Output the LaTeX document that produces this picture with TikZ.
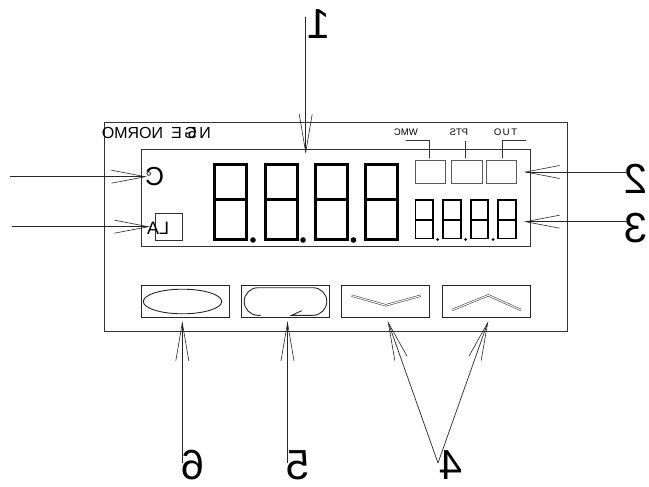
\documentclass[tikz,border=0pt]{standalone}
\usepackage{fontspec}
\setmainfont{Liberation Sans}
\usetikzlibrary{arrows.meta}
\newcommand{\mirr}[1]{\reflectbox{#1}}
\tikzset{
  x=1pt,y=-1pt,
  thinline/.style={line width=.7pt,draw=black!80},
  boxline/.style={line width=.8pt,draw=black!65},
  leader/.style={line width=.7pt,draw=black!85,-{Straight Barb[length=38pt,width=13pt,line width=.6pt]}},
  leaderside/.style={line width=.7pt,draw=black!85,-{Straight Barb[length=34pt,width=13pt,line width=.6pt]}},
  bigseg/.style={line width=3pt,draw=black,line join=miter},
  smallseg/.style={line width=1.7pt,draw=black,line join=miter},
  callout/.style={inner sep=0pt,font=\fontsize{42}{42}\selectfont},
  small/.style={inner sep=0pt,font=\fontsize{9.5}{9.5}\selectfont},
  chev/.style={line width=.5pt,double=white,double distance=1.1pt,draw=black!85,line join=miter},
  btn/.style={line width=.9pt,draw=black!85},
}
\begin{document}
\begin{tikzpicture}
\useasboundingbox (0,0) rectangle (649,487);
% housings
\draw[thinline] (104.5,122.5) rectangle (567,331);
\draw[thinline] (141,149) rectangle (530,246);
% large digits
\foreach \xx in {214.5,265,315.5,365.5}{
  \draw[bigseg] (\xx,164.5) rectangle ++(32,75);
  \draw[bigseg] (\xx,199.5) -- ++(32,0);
}
\foreach \xx in {253,303,353.5}{ \fill (\xx,240) circle (2.8); }
% small digits
\foreach \xx in {415.5,443.2,470.8,498.2}{
  \draw[smallseg] (\xx,200) rectangle ++(17.5,38.5);
  \draw[smallseg] (\xx,220) -- ++(17.5,0);
}
\foreach \xx in {437.7,465.5,493}{ \fill (\xx,239.5) circle (1.5); }
% indicator boxes
\node[boxline,draw,minimum width=30.5pt,minimum height=23pt,inner sep=0pt] (bw) at (430.3,172.3) {};
\node[boxline,draw,minimum width=30.5pt,minimum height=23pt,inner sep=0pt] (bp) at (467,172.3) {};
\node[boxline,draw,minimum width=30.5pt,minimum height=23pt,inner sep=0pt] (bo) at (501.3,172.3) {};
\coordinate (wf) at (405.7,140.7);
\coordinate (pf) at (465.7,141);
\coordinate (of) at (525.7,140.7);
\coordinate (wb) at (429.7,158);
\coordinate (pb) at (465.7,158);
\coordinate (ob) at (502.3,158);
\draw[thinline] (wf) -| (wb);
\draw[thinline] (pf) -- (pb);
\draw[thinline] (of) -| (ob);
\node[small] (twmc) at (406,132) {\mirr{WMC}};
\node[small] (tpts) at (459,132) {\mirr{PTS}};
\node[small] (tout) at (505.5,132) {\mirr{T\kern1.5pt U\kern1.5pt O}};
% brand, indicators
\node[inner sep=0pt,anchor=east,font=\fontsize{16}{16}\selectfont] (brand) at (211,133) {\mirr{N\kern2.5pt\rlap{5}G\kern2.5pt E\kern8pt NORMO}};
\node[inner sep=0pt,font=\fontsize{26}{26}\selectfont] (cdeg) at (155,176.5) {\mirr{C\kern-9pt\raisebox{3pt}{\fontsize{15}{15}\selectfont\,°}}};
\node[draw,thinline,minimum width=27.7pt,minimum height=27.7pt,inner sep=0pt] (albox) at (168.9,226.9) {};
\node[inner sep=0pt,font=\fontsize{18}{18}\selectfont] (la) at (158,228.5) {\mirr{LA}};
% buttons
\node[btn,draw,minimum width=88pt,minimum height=32pt,inner sep=0pt] (b1) at (185,301) {};
\node[btn,draw,minimum width=88pt,minimum height=32pt,inner sep=0pt] (b2) at (285.3,301) {};
\node[btn,draw,minimum width=88pt,minimum height=32pt,inner sep=0pt] (b3) at (385.8,301) {};
\node[btn,draw,minimum width=88pt,minimum height=32pt,inner sep=0pt] (b4) at (486.3,301) {};
\draw[btn] (182.5,301.5) ellipse (39.2 and 12.3);
\draw[btn] (260.7,315.3) -- (258,315.3) arc[start angle=90,end angle=270,radius=13.8] -- (313,287.7) arc[start angle=270,end angle=450,radius=13.8] -- (291.7,315.3) -- (301.7,310.7);
\draw[chev] (351.7,295.7) -- (385.7,305.3) -- (420.7,295.7);
\draw[chev] (452,310) -- (488.3,295.3) -- (521,310);
% callouts
\node[callout] (n1) at (319,24) {\mirr{1}};
\node[callout] (n2) at (636,179) {\mirr{2}};
\node[callout] (n3) at (636,228) {\mirr{3}};
\node[callout] (n4) at (451,465) {\mirr{4}};
\node[callout] (n5) at (298,465) {\mirr{5}};
\node[callout] (n6) at (193,465) {\mirr{6}};
\coordinate (f1) at (305.7,17);   \coordinate (t1) at (305.7,154);
\coordinate (f2) at (626,172);    \coordinate (t2) at (524,172);
\coordinate (f3) at (626,221.7);  \coordinate (t3) at (524,221.7);
\coordinate (fc) at (10,176.7);   \coordinate (tc) at (147,176.7);
\coordinate (fl) at (12,226.7);   \coordinate (tl) at (150,226.7);
\coordinate (f6) at (182.3,463);  \coordinate (t6) at (182.3,321);
\coordinate (f5) at (287.5,463);  \coordinate (t5) at (287.5,321);
\coordinate (f4) at (438,463);    \coordinate (t4a) at (387.7,321); \coordinate (t4b) at (488.3,321);
\draw[leader] (f1) -- (t1);
\draw[leaderside] (f2) -- (t2);
\draw[leaderside] (f3) -- (t3);
\draw[leaderside] (fc) -- (tc);
\draw[leaderside] (fl) -- (tl);
\draw[leader] (f6) -- (t6);
\draw[leader] (f5) -- (t5);
\draw[leader] (f4) -- (t4a);
\draw[leader] (f4) -- (t4b);
\end{tikzpicture}
\end{document}
